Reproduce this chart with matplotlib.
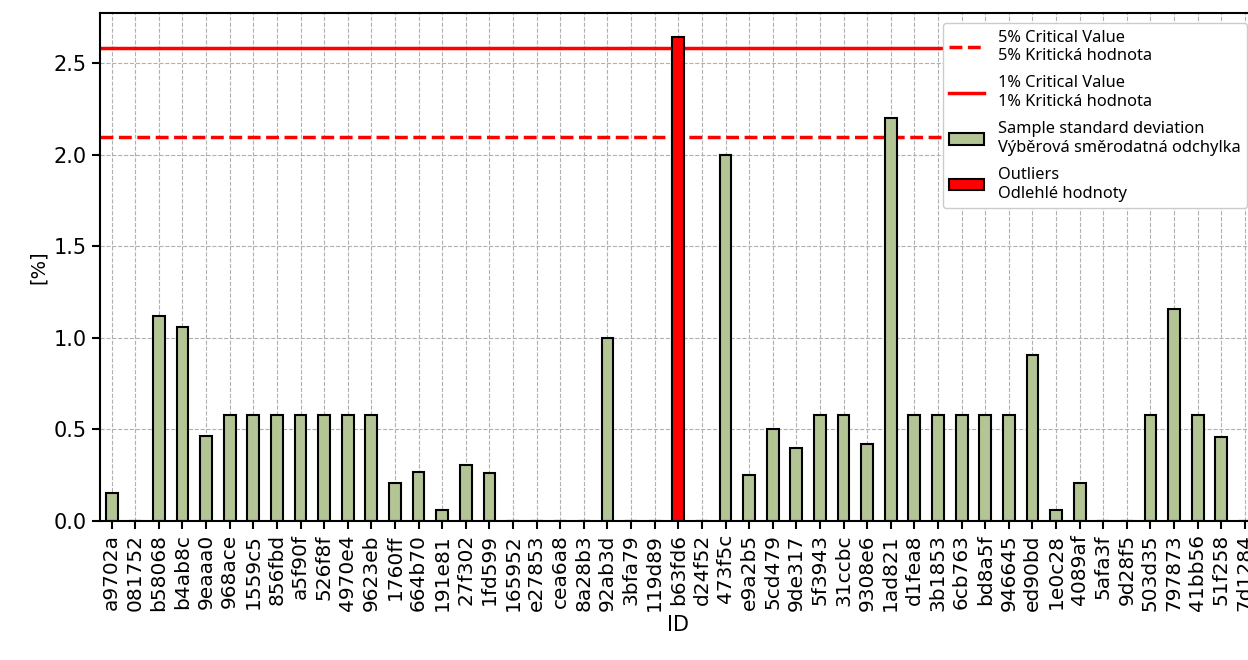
import matplotlib
matplotlib.use("Agg")
import matplotlib.pyplot as plt
import numpy as np

ids = ["a9702a", "081752", "b58068", "b4ab8c", "9eaaa0", "968ace", "1559c5", "856fbd",
       "a5f90f", "526f8f", "4970e4", "9623eb", "1760ff", "664b70", "191e81", "27f302",
       "1fd599", "165952", "e27853", "cea6a8", "8a28b3", "92ab3d", "3bfa79", "119d89",
       "b63fd6", "d24f52", "473f5c", "e9a2b5", "5cd479", "9de317", "5f3943", "31ccbc",
       "9308e6", "1ad821", "d1fea8", "3b1853", "6cb763", "bd8a5f", "946645", "ed90bd",
       "1e0c28", "4089af", "5afa3f", "9d28f5", "503d35", "797873", "41bb56", "51f258",
       "7d1284"]
std = [0.153, 0.0, 1.12, 1.06, 0.465, 0.577, 0.577, 0.577,
       0.577, 0.577, 0.577, 0.577, 0.208, 0.268, 0.06, 0.306,
       0.263, 0.0, 0.0, 0.0, 0.0, 1.0, 0.0, 0.0,
       2.642, 0.0, 2.0, 0.252, 0.503, 0.40, 0.577, 0.577,
       0.42, 2.2, 0.577, 0.577, 0.577, 0.577, 0.577, 0.908,
       0.06, 0.208, 0.0, 0.0, 0.577, 1.16, 0.577, 0.46,
       0.0]
outliers = ["b63fd6"]
crit_5 = 2.10
crit_1 = 2.582

fig = plt.figure(figsize=(12.48, 6.6), dpi=100)
ax = fig.add_axes([0.080, 0.2106, 0.927, 0.7694])

x = np.arange(len(ids))
normal = [v if i not in outliers else 0 for i, v in zip(ids, std)]
out = [v if i in outliers else 0 for i, v in zip(ids, std)]

ax.axhline(crit_5, color="red", linestyle="--", linewidth=2.5, zorder=2,
           label="5% Critical Value\n5% Kritická hodnota")
ax.axhline(crit_1, color="red", linestyle="-", linewidth=2.5, zorder=2,
           label="1% Critical Value\n1% Kritická hodnota")
ax.bar(x, normal, width=0.5, color="#b3c495", edgecolor="black", linewidth=1.5, zorder=3,
       label="Sample standard deviation\nVýběrová směrodatná odchylka")
ax.bar(x, out, width=0.5, color="red", edgecolor="black", linewidth=1.5, zorder=3,
       label="Outliers\nOdlehlé hodnoty")

ax.set_xlim(-0.5, len(ids) - 0.5)
ax.set_ylim(0, max(std) * 1.05)
ax.set_xticks(x)
ax.set_xticklabels(ids, rotation=90, fontsize=14.5)
ax.tick_params(axis="y", labelsize=15)
ax.tick_params(width=1.5, length=6)
ax.set_xlabel("ID", fontsize=15, labelpad=3)
ax.set_ylabel("[%]", fontsize=14)
ax.grid(True, linestyle="--", color="#b0b0b0", linewidth=0.8)
ax.set_axisbelow(True)
for s in ax.spines.values():
    s.set_linewidth(1.5)

ax.legend(loc="upper right", prop={"family": "Noto Sans", "size": 11.8},
          handlelength=2.1, borderaxespad=0.6, framealpha=1,
          edgecolor="#cccccc", labelspacing=0.7, handletextpad=0.85)

plt.savefig("out.png", dpi=100)
plt.close()
